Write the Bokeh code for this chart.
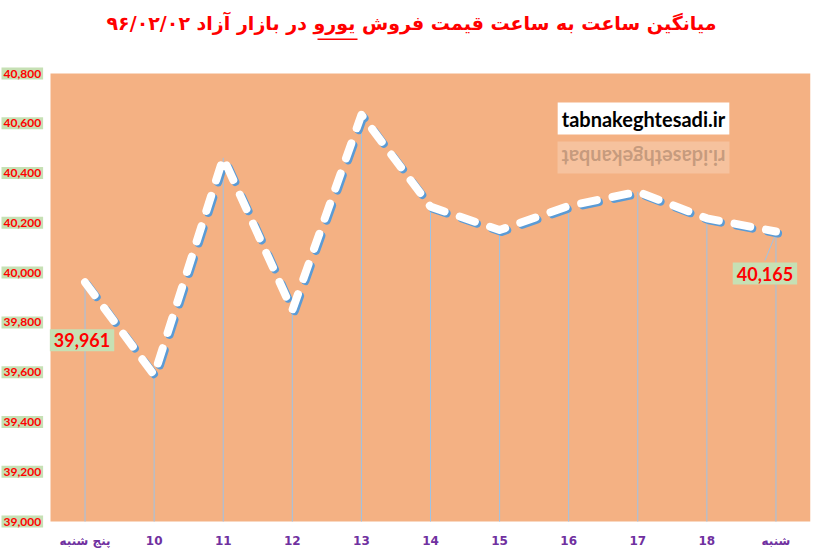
from bokeh.plotting import figure
from bokeh.models import Label, FixedTicker, ColumnDataSource, Range1d, BoxAnnotation
from bokeh.transform import dodge
from bokeh.embed import file_html
from bokeh.resources import INLINE

# ---- data ----
categories = ["پنج شنبه", "10", "11", "12", "13", "14", "15", "16", "17", "18", "شنبه"]
prices = [39961, 39588, 40461, 39849, 40634, 40265, 40171, 40268, 40325, 40218, 40165]
y_ticks = [39000, 39200, 39400, 39600, 39800, 40000, 40200, 40400, 40600, 40800]
y_min, y_max = 39000, 40800
title_text = "میانگین ساعت به ساعت قیمت فروش یورو در بازار آزاد ۹۶/۰۲/۰۲"
watermark = "tabnakeghtesadi.ir"

ORANGE = "#F4B183"
GREEN = "#C6E0B4"
RED = "#FF0000"
PURPLE = "#7030A0"

# ---- layout (pixels) ----
W, H = 819, 550
PLOT_L, PLOT_R, PLOT_T, PLOT_B = 50, 810, 73, 521
FRAME_B = 531
n = len(categories)
xs = list(range(n))
px_per_x = (PLOT_R - PLOT_L) / n
px_per_y = (PLOT_B - PLOT_T) / (y_max - y_min)
x_start = -0.5 - PLOT_L / px_per_x
y_end = y_max + PLOT_T / px_per_y
y_start = y_min - (FRAME_B - PLOT_B) / px_per_y


def px_x(px):
    return x_start + px / px_per_x


def px_y(py):
    return y_min + (PLOT_B - py) / px_per_y


src = ColumnDataSource(dict(x=xs, v=prices, base=[y_min] * n))

p = figure(width=W, height=H, x_range=Range1d(x_start, n - 0.5), y_range=Range1d(y_start, y_end),
           output_backend="svg", toolbar_location=None,
           min_border_left=0, min_border_right=W - PLOT_R, min_border_bottom=H - FRAME_B,
           min_border_top=0, background_fill_color="white", border_fill_color="white",
           outline_line_color=None)
p.grid.visible = False

# plot area
p.add_layout(BoxAnnotation(left=-0.5, right=n - 0.5, bottom=y_min, top=y_max,
                           fill_color=ORANGE, fill_alpha=1, line_color=None, level="underlay"))

# title
p.add_layout(Label(x=(PLOT_R + 12) / 2, y=FRAME_B - 22, x_units="screen", y_units="screen",
                   text=title_text, text_align="center", text_baseline="middle",
                   text_color=RED, text_font="DejaVu Sans", text_font_style="bold",
                   text_font_size="19px"))
# underline of the currency word
p.add_layout(BoxAnnotation(left=px_x(317), right=px_x(357), bottom=px_y(39.5), top=px_y(38),
                           fill_color=RED, fill_alpha=1, line_color=None))

# y axis labels (boxed)
p.yaxis.visible = False
for t in y_ticks:
    p.add_layout(Label(x=x_start, y=t, x_offset=1, text=f"{t:,}",
                       text_align="left", text_baseline="middle", text_color=RED,
                       text_font="Lato", text_font_style="bold", text_font_size="12px",
                       background_fill_color=GREEN, padding=2))

# x axis
p.xaxis.ticker = FixedTicker(ticks=xs)
p.xaxis.major_label_overrides = {i: c for i, c in zip(xs, categories)}
p.xaxis.axis_line_color = None
p.xaxis.major_tick_line_color = None
p.xaxis.minor_tick_line_color = None
p.xaxis.major_tick_out = 0
p.xaxis.major_tick_in = 0
p.xaxis.major_label_text_color = PURPLE
p.xaxis.major_label_text_font = "DejaVu Sans"
p.xaxis.major_label_text_font_style = "bold"
p.xaxis.major_label_text_font_size = "12px"
p.xaxis.major_label_standoff = 2

# drop lines
p.segment(x0="x", y0="v", x1="x", y1="base", source=src, line_color="#9DC3E6", line_width=1)

# leader line of the last data label
p.segment(x0=[xs[-1] - 11 / px_per_x], y0=[prices[-1] - 29 / px_per_y],
          x1=[xs[-1]], y1=[prices[-1] - 2 / px_per_y], line_color="#9DC3E6", line_width=1)

# shadow line
p.line(x=dodge("x", 0.03), y=dodge("v", -8), source=src,
       line_color="#5B9BD5", line_width=8, line_dash="16 16", line_cap="round", line_join="round")
# main white dashed line
p.line(x="x", y="v", source=src, line_color="white", line_width=8,
       line_dash="16 16", line_cap="round", line_join="round")

# data labels for first and last points
for idx, xo, yo in [(0, -3, -58), (n - 1, -11, -42)]:
    p.add_layout(Label(x=xs[idx], y=prices[idx], x_offset=xo, y_offset=yo,
                       text=f"{prices[idx]:,}", text_align="center", text_baseline="middle",
                       text_color=RED, text_font="Lato", text_font_style="bold",
                       text_font_size="18px", background_fill_color=GREEN, padding=4))

# watermark and its reflection
p.add_layout(Label(x=643, y=FRAME_B - 118, x_units="screen", y_units="screen", text=watermark,
                   text_align="center", text_baseline="middle", text_color="black",
                   text_font="Lato", text_font_style="bold", text_font_size="20px",
                   background_fill_color="white", padding=4))
p.add_layout(Label(x=643, y=FRAME_B - 157, x_units="screen", y_units="screen", text=watermark[::-1],
                   angle=3.14159265, text_align="center", text_baseline="middle",
                   text_color="#8a6a55", text_alpha=0.45,
                   text_font="Lato", text_font_style="bold", text_font_size="20px",
                   background_fill_color="white", background_fill_alpha=0.22, padding=4))

open("out.html", "w").write(file_html(p, INLINE))
